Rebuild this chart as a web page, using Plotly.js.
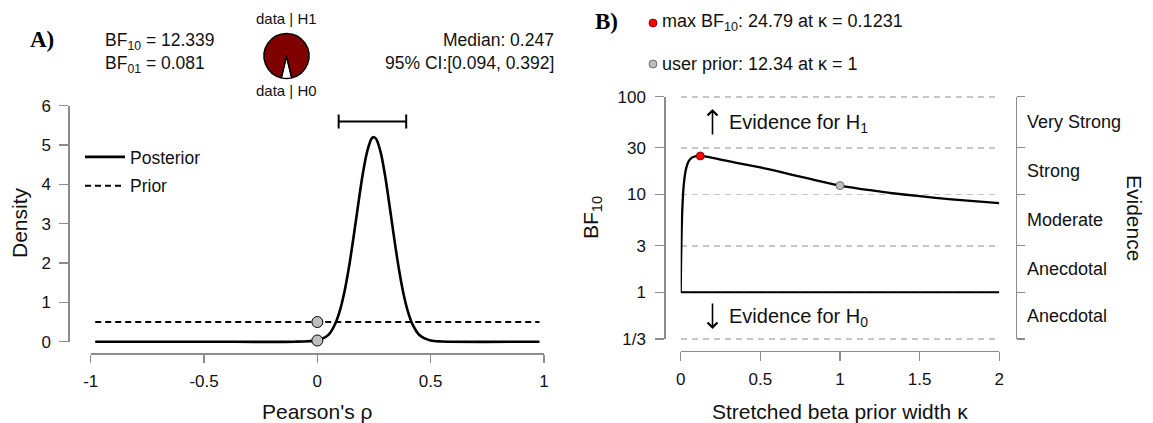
<!DOCTYPE html>
<html><head><meta charset="utf-8">
<script src="https://cdn.plot.ly/plotly-3.0.1.min.js"></script>
<style>html,body{margin:0;padding:0;background:#fff}#chart{width:1153px;height:423px}</style>
</head><body><div id="chart"></div>
<script>
// ---------- Panel A data ----------
const rhoX = [-0.98, -0.5, -0.1, 0, 0.02, 0.05, 0.08, 0.10, 0.12, 0.14, 0.16, 0.18, 0.20, 0.22, 0.24, 0.25, 0.26, 0.28, 0.30, 0.32, 0.34, 0.36, 0.38, 0.40, 0.42, 0.45, 0.50, 0.55, 0.98];
const posteriorDensity = [0, 0, 0, 0.03, 0.07, 0.18, 0.47, 0.80, 1.28, 1.91, 2.67, 3.48, 4.25, 4.84, 5.17, 5.20, 5.15, 4.80, 4.18, 3.40, 2.59, 1.84, 1.22, 0.76, 0.44, 0.17, 0.03, 0.005, 0];
const priorX = [-0.98, 0.98];
const priorDensity = [0.5, 0.5];
const pointRho = [0, 0];
const pointDensity = [0.5, 0.03];
const ciLower = 0.094, ciUpper = 0.392, postMedian = 0.247;
const bf10 = 12.339, bf01 = 0.081;
const pieLabels = ['data | H0', 'data | H1'];
const pieValues = [bf01, 1];
const densityTicks = [0, 1, 2, 3, 4, 5, 6];
const rhoTicks = [-1, -0.5, 0, 0.5, 1];
const rhoTickText = ['-1', '-0.5', '0', '0.5', '1'];

// ---------- Panel B data ----------
const kappa = [0, 0.001, 0.002, 0.004, 0.006, 0.008, 0.01, 0.015, 0.02, 0.03, 0.04, 0.05, 0.07, 0.09, 0.1231, 0.15, 0.2, 0.25, 0.3, 0.4, 0.5, 0.6, 0.7, 0.8, 0.9, 1.0, 1.2, 1.4, 1.6, 1.8, 2.0];
const bfKappa = [1, 1.4, 1.9, 3.0, 4.3, 5.6, 7.0, 10.2, 13.0, 17.2, 20.0, 21.9, 23.8, 24.6, 24.79, 24.5, 23.7, 22.8, 21.9, 20.3, 18.9, 17.4, 15.9, 14.6, 13.4, 12.34, 11.0, 10.0, 9.25, 8.65, 8.15];
const refKappa = [0, 2];
const refBF = [1, 1];
const maxKappa = 0.1231, maxBF = 24.79;
const userKappa = 1, userBF = 12.34;
const bfTicks = [1/3, 1, 3, 10, 30, 100];
const bfTickText = ['1/3', '1', '3', '10', '30', '100'];
const evidenceLabels = ['Anecdotal', 'Anecdotal', 'Moderate', 'Strong', 'Very Strong'];
const kappaTicks = [0, 0.5, 1, 1.5, 2];
const kappaTickText = ['0', '0.5', '1', '1.5', '2'];

// ---------- layout helpers ----------
const W = 1153, H = 423;
const px = v => v / W;
const py = v => 1 - v / H;
const FONT = 'Liberation Sans, Arial, Helvetica, sans-serif';
const AX = '#8c8c8c';
const ciY = 5.6;
const bfLo = Math.log10(1/3), bfHi = 2;
const gridPad = 0.03; // decades of padding so edge gridlines are drawn
const bfTop = 96.7, bfBot = 339, pxPerDec = (bfBot - bfTop) / (bfHi - bfLo);

const traces = [
  {x: rhoX, y: posteriorDensity, xaxis: 'x', yaxis: 'y', mode: 'lines', name: 'Posterior',
   line: {color: 'black', width: 2.6, shape: 'spline', smoothing: 0.8}, legendgroup: 'a', hoverinfo: 'skip'},
  {x: priorX, y: priorDensity, xaxis: 'x', yaxis: 'y', mode: 'lines', name: 'Prior',
   line: {color: 'black', width: 2, dash: '6px,4px'}, legendgroup: 'b', hoverinfo: 'skip'},
  {x: pointRho, y: pointDensity, xaxis: 'x', yaxis: 'y', mode: 'markers', showlegend: false, cliponaxis: false,
   marker: {size: 11, color: '#bebebe', line: {color: 'black', width: 1}}, hoverinfo: 'skip'},
  {x: [postMedian], y: [ciY], xaxis: 'x', yaxis: 'y', mode: 'markers', showlegend: false, cliponaxis: false,
   marker: {size: 1, color: 'rgba(0,0,0,0)'}, hoverinfo: 'skip',
   error_x: {type: 'data', symmetric: false, array: [ciUpper - postMedian], arrayminus: [postMedian - ciLower],
             color: 'black', thickness: 2, width: 7}},
  {x: [null], y: [null], xaxis: 'x', yaxis: 'y3', mode: 'markers', showlegend: false, hoverinfo: 'skip'},
  {type: 'pie', labels: pieLabels, values: pieValues, sort: false, direction: 'clockwise',
   rotation: 180 - 180 * pieValues[0] / (pieValues[0] + pieValues[1]),
   marker: {colors: ['#ffffff', '#800000'], line: {color: 'black', width: 1.5}},
   textinfo: 'none', hoverinfo: 'skip', showlegend: false,
   domain: {x: [px(264), px(309)], y: [py(79), py(33)]}},
  {x: refKappa, y: refBF, xaxis: 'x2', yaxis: 'y2', mode: 'lines', showlegend: false,
   line: {color: 'black', width: 2}, hoverinfo: 'skip'},
  {x: kappa, y: bfKappa, xaxis: 'x2', yaxis: 'y2', mode: 'lines', showlegend: false,
   line: {color: 'black', width: 2.3, shape: 'spline', smoothing: 0.5}, hoverinfo: 'skip'},
  {x: [maxKappa], y: [maxBF], xaxis: 'x2', yaxis: 'y2', mode: 'markers', showlegend: false, cliponaxis: false,
   marker: {size: 8, color: '#ff0000', line: {color: '#700000', width: 0.8}}, hoverinfo: 'skip'},
  {x: [userKappa], y: [userBF], xaxis: 'x2', yaxis: 'y2', mode: 'markers', showlegend: false, cliponaxis: false,
   marker: {size: 8, color: '#bebebe', line: {color: '#555555', width: 0.8}}, hoverinfo: 'skip'},
  {x: [null], y: [null], xaxis: 'x2', yaxis: 'y5', mode: 'markers', showlegend: false, hoverinfo: 'skip'},
  {x: [null], y: [null], xaxis: 'x2', yaxis: 'y4', mode: 'markers', showlegend: false, hoverinfo: 'skip'}
];

const axBase = {showline: true, linecolor: AX, linewidth: 1.2, ticks: 'outside', tickcolor: AX, tickwidth: 1.2,
  showgrid: false, zeroline: false, tickfont: {family: FONT, size: 17, color: '#111'}, fixedrange: true};

const anns = [];
const txt = (text, x, y, size, extra) => anns.push(Object.assign({text: text, x: px(x), y: py(y), xref: 'paper', yref: 'paper',
  xanchor: 'center', yanchor: 'middle', showarrow: false, font: {family: FONT, size: size, color: '#111'}}, extra || {}));

const serif = {family: 'Liberation Serif, Times New Roman, serif', size: 23, color: 'black'};
txt('<b>A)</b>', 42, 39, 23, {font: serif});
txt('<b>B)</b>', 606, 22, 23, {font: serif});
txt('BF<sub>10</sub> = ' + bf10.toFixed(3), 103, 41, 17.5, {xanchor: 'left'});
txt('BF<sub>01</sub> = ' + bf01.toFixed(3), 103, 64, 17.5, {xanchor: 'left'});
txt(pieLabels[1], 286.5, 19, 15);
txt(pieLabels[0], 286.5, 91, 15);
txt('Median: ' + postMedian.toFixed(3), 556, 40, 17.5, {xanchor: 'right'});
txt('95% CI:[' + ciLower.toFixed(3) + ', ' + ciUpper.toFixed(3) + ']', 556, 63, 17.5, {xanchor: 'right'});
txt('max BF<sub>10</sub>: ' + maxBF + ' at κ = ' + maxKappa, 660, 23, 18, {xanchor: 'left'});
txt('user prior: ' + userBF + ' at κ = ' + userKappa, 660, 64, 18, {xanchor: 'left'});
txt('Density', 19, 223, 21, {textangle: -90});
txt("Pearson's ρ", 317, 411, 21);
txt('BF<sub>10</sub>', 592, 218, 21, {textangle: -90});
txt('Stretched beta prior width κ', 840, 411, 21);
txt('Evidence', 1135, 218, 21, {textangle: 90});
txt('Evidence for H<sub>1</sub>', 727, 124, 20, {xanchor: 'left'});
txt('Evidence for H<sub>0</sub>', 727, 317, 20, {xanchor: 'left'});
// arrows
anns.push({x: px(712.5), y: py(109), xref: 'paper', yref: 'paper', ax: 0, ay: 27, text: '', showarrow: true,
  arrowhead: 4, arrowsize: 1.2, arrowwidth: 1.6, arrowcolor: 'black'});
anns.push({x: px(712.5), y: py(329), xref: 'paper', yref: 'paper', ax: 0, ay: -27, text: '', showarrow: true,
  arrowhead: 4, arrowsize: 1.2, arrowwidth: 1.6, arrowcolor: 'black'});
// evidence category labels between boundaries
for (let i = 0; i < evidenceLabels.length; i++) {
  const mid = (Math.log10(bfTicks[i]) + Math.log10(bfTicks[i + 1])) / 2;
  anns.push({text: evidenceLabels[i], x: px(1025), xref: 'paper', xanchor: 'left', y: mid, yref: 'y2', yanchor: 'middle',
    showarrow: false, font: {family: FONT, size: 18, color: '#111'}});
}

const shapes = [
  {type: 'circle', xref: 'paper', yref: 'paper', xsizemode: 'pixel', ysizemode: 'pixel',
   xanchor: px(653), yanchor: py(23), x0: -4, x1: 4, y0: -4, y1: 4, fillcolor: '#ff0000', line: {color: '#700000', width: 0.8}},
  {type: 'circle', xref: 'paper', yref: 'paper', xsizemode: 'pixel', ysizemode: 'pixel',
   xanchor: px(653), yanchor: py(64), x0: -4, x1: 4, y0: -4, y1: 4, fillcolor: '#bebebe', line: {color: '#555555', width: 0.8}}
];

const layout = {
  width: W, height: H, margin: {l: 0, r: 0, t: 0, b: 0}, paper_bgcolor: 'white', plot_bgcolor: 'rgba(0,0,0,0)',
  font: {family: FONT, color: '#111'},
  showlegend: true,
  legend: {x: px(80), y: py(139), xanchor: 'left', yanchor: 'top', bgcolor: 'rgba(0,0,0,0)',
    font: {family: FONT, size: 17.5, color: '#111'}, tracegroupgap: 3, itemwidth: 40},
  xaxis: Object.assign({}, axBase, {domain: [px(90.7), px(544)], range: [-1, 1], anchor: 'free', position: py(353.3),
    tickvals: rhoTicks, ticktext: rhoTickText, ticklen: 8.5, ticklabelstandoff: 4}),
  yaxis: {domain: [py(353.5), py(105.7)], range: [-0.3, 6], visible: false, fixedrange: true, anchor: 'x'},
  yaxis3: Object.assign({}, axBase, {domain: [py(341.7), py(105.7)], range: [0, 6], anchor: 'free', position: px(68.3),
    tickvals: densityTicks, ticklen: 9, ticklabelstandoff: 5}),
  xaxis2: Object.assign({}, axBase, {domain: [px(680.7), px(999.3)], range: [0, 2], anchor: 'free', position: py(350.7),
    tickvals: kappaTicks, ticktext: kappaTickText, ticklen: 9, ticklabelstandoff: 4}),
  // data axis for panel B (slightly padded so the edge gridlines at 1/3 and 100 are drawn); grid only
  yaxis2: {domain: [py(bfBot + gridPad * pxPerDec), py(bfTop - gridPad * pxPerDec)], type: 'log',
    range: [bfLo - gridPad, bfHi + gridPad], anchor: 'x2', showline: false, ticks: '', showticklabels: false,
    zeroline: false, fixedrange: true, tickvals: bfTicks, showgrid: true, gridcolor: '#c6c6c6',
    griddash: '6px,5px', gridwidth: 1.7},
  // visible left axis for panel B
  yaxis5: Object.assign({}, axBase, {domain: [py(bfBot), py(bfTop)], type: 'log', range: [bfLo, bfHi],
    anchor: 'free', position: px(664.3), tickvals: bfTicks, ticktext: bfTickText, ticklen: 9, ticklabelstandoff: 6}),
  // right evidence axis
  yaxis4: Object.assign({}, axBase, {overlaying: 'y5', side: 'right', type: 'log', range: [bfLo, bfHi],
    anchor: 'free', position: px(1016), tickvals: bfTicks, showticklabels: false, ticklen: 8}),
  annotations: anns,
  shapes: shapes
};

Plotly.newPlot('chart', traces, layout, {staticPlot: true, displayModeBar: false});
</script>
</body></html>
